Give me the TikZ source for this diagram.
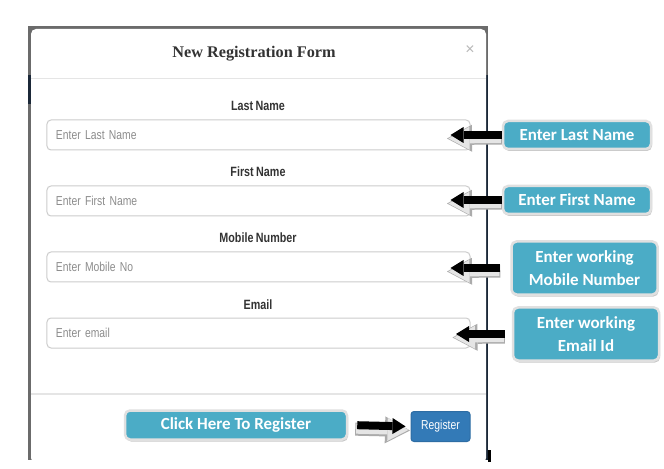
\documentclass[tikz,border=0pt]{standalone}
\usepackage{fontspec}
\setmainfont{Liberation Sans}
\newfontfamily\narrowfont[FakeStretch=0.8,WordSpace=0.8]{Liberation Sans}
\newfontfamily\calloutfont{Carlito}
\newfontfamily\titlefont{Liberation Serif}
\usetikzlibrary{arrows.meta,shadows,calc}
\definecolor{tealbox}{HTML}{4BACC6}
\definecolor{btnblue}{HTML}{337AB7}
\definecolor{btnborder}{HTML}{2E6DA4}
\definecolor{framegrey}{HTML}{6B6B6B}
\definecolor{navybg}{HTML}{1B2838}
\definecolor{txtdark}{HTML}{333333}
\definecolor{sepgrey}{HTML}{E5E5E5}
\begin{document}
\begin{tikzpicture}[x=1bp,y=-1bp,
  callout/.style={fill=tealbox, draw=black!12, line width=2.5bp, rounded corners=5bp,
    text=white, font=\calloutfont\bfseries\fontsize{17}{22.5}\selectfont, align=center,
    inner sep=0pt, minimum width=148bp,
    drop shadow={shadow xshift=1bp, shadow yshift=-2bp, opacity=0.35, fill=black!60}},
  lbl/.style={font=\narrowfont\bfseries\fontsize{13.5}{15}\selectfont, text=txtdark, inner sep=0pt},
  inputbox/.style={draw=black!20, line width=1bp, rounded corners=4bp, fill=white,
    minimum width=423bp, minimum height=30bp, text width=405bp, align=left, inner xsep=9bp,
    font=\narrowfont\fontsize{13}{15}\selectfont, text=black!45},
  regbtn/.style={fill=btnblue, draw=btnborder, line width=1bp, rounded corners=3bp,
    minimum width=59bp, minimum height=30bp, inner sep=0pt, text=white,
    font=\narrowfont\fontsize{13}{15}\selectfont},
  sepline/.style={draw=sepgrey, line width=1.2bp},
  gout/.style={draw=black!33, line width=13bp, -{Triangle[length=25bp,width=27bp,line width=0pt]}},
  gin/.style={draw=black!10, line width=10bp, -{Triangle[length=21bp,width=23bp,line width=0pt]}},
  barrow/.style={draw=black, line width=8bp, -{Triangle[length=13bp,width=16bp,line width=0pt]}}
]
\useasboundingbox (0,0) rectangle (664,469);
\fill[white] (0,0) rectangle (664,469);

% modal frame
\fill[framegrey] (28,26) rectangle (488,460);
\fill[navybg] (486,75) rectangle (488,460);
\fill[navybg] (28,75) rectangle (31,104);
\fill[white, rounded corners=5bp] (31,29) rectangle (486,463);
\fill[black] (488,450) rectangle (491,462);
\draw[sepline] (31,78.5) -- (486,78.5);
\draw[sepline] (31,394) -- (486,394);

% header
\node[font=\titlefont\bfseries\fontsize{16.3}{19}\selectfont, text=txtdark] (title) at (254,54) {New Registration Form};
\node[font=\fontsize{16}{17}\selectfont, text=black!28] (close) at (470,50) {×};

% fields
\node[lbl] (l1) at (258,106) {Last Name};
\node[inputbox] (in1) at (258.5,135) {Enter Last Name};
\node[lbl] (l2) at (258,172) {First Name};
\node[inputbox] (in2) at (258.5,201) {Enter First Name};
\node[lbl] (l3) at (258,238) {Mobile Number};
\node[inputbox] (in3) at (258.5,267) {Enter Mobile No};
\node[lbl] (l4) at (258,305) {Email};
\node[inputbox] (in4) at (258.5,333) {Enter email};

\node[regbtn] (reg) at (440.5,426.5) {Register};

% callouts
\node[callout, minimum height=28bp] (c1) at (577,135) {Enter Last Name};
\node[callout, minimum height=28bp] (c2) at (577,200) {Enter First Name};
\node[callout, minimum width=146bp, minimum height=53bp] (c3) at (584.5,268) {Enter working\\Mobile Number};
\node[callout, minimum width=146bp, minimum height=53bp] (c4) at (586,334) {Enter working\\Email Id};
\node[callout, minimum width=222bp, minimum height=29bp] (c5) at (236,425) {Click Here To Register};

% arrow tips
\coordinate (t1) at (450.5,135);
\coordinate (t2) at (450.5,200);
\coordinate (t3) at (450.5,268);
\coordinate (t4) at (456,334);

% arrows (shadow outline then black)
\foreach \i/\s in {1/0,2/0,3/10,4/7}{
  \draw[gout, shorten <=\s bp] ([yshift=-3bp]c\i.west) -- ([shift={(-3.5bp,-3.5bp)}]t\i);
  \draw[gin, shorten <=\s bp] ([shift={(-1bp,-3bp)}]c\i.west) -- ([shift={(-2bp,-3.5bp)}]t\i);
  \draw[barrow, shorten <=\s bp] (c\i.west) -- (t\i);
}
\draw[gout, shorten <=7bp, shorten >=0.5bp] ([yshift=-4bp]c5.east) -- ([yshift=-4bp]reg.west);
\draw[gin, shorten <=8bp, shorten >=2bp] ([yshift=-3.5bp]c5.east) -- ([yshift=-3.5bp]reg.west);
\draw[barrow, shorten <=9bp, shorten >=5bp] (c5.east) -- (reg.west);
\end{tikzpicture}
\end{document}
